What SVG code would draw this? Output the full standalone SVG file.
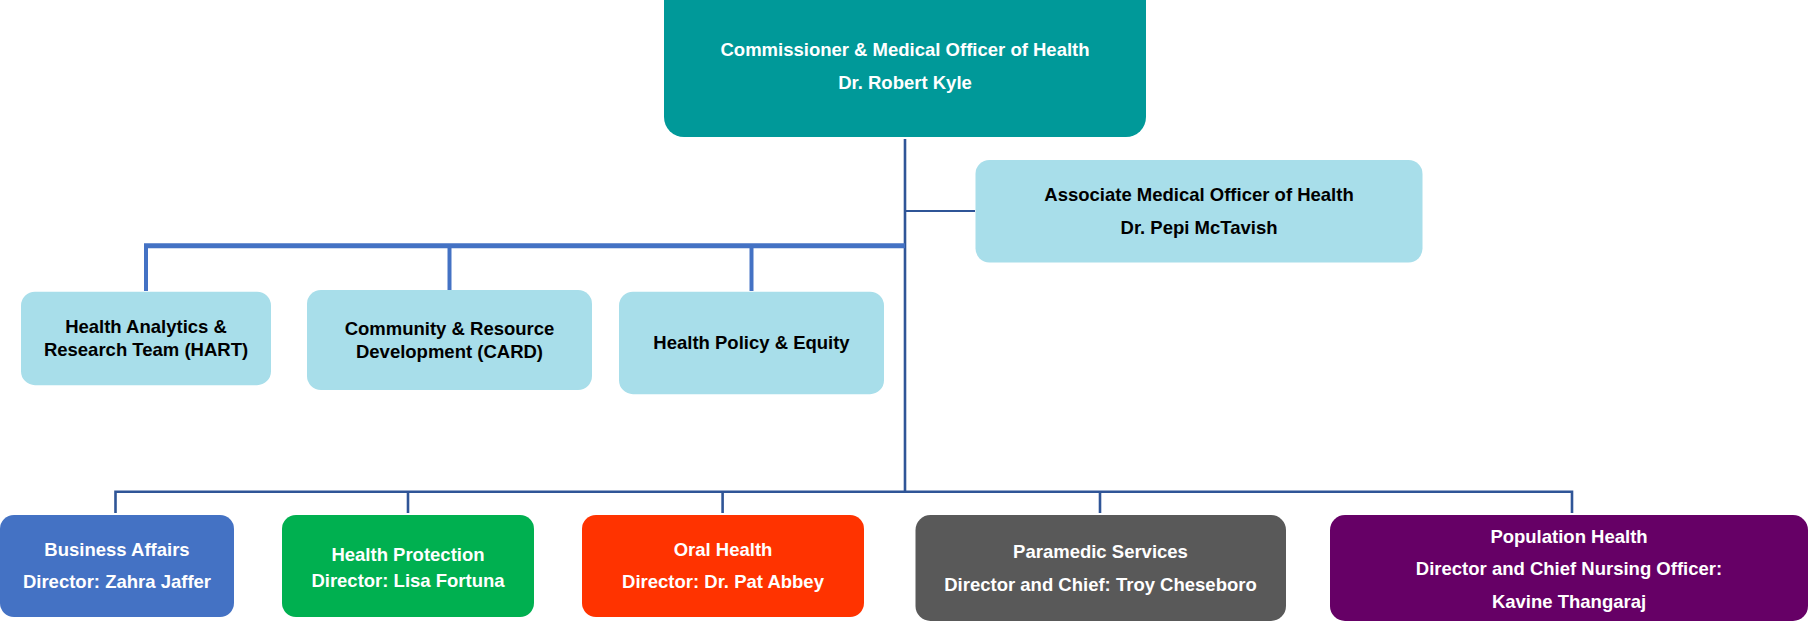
<svg xmlns="http://www.w3.org/2000/svg" width="1810" height="621" viewBox="0 0 1810 621">
<style>
text{font-family:"Liberation Sans",Arial,sans-serif;font-weight:bold;font-size:18.5px;text-anchor:middle}
.w{fill:#ffffff}
.k{fill:#000000}
.lb{fill:#A8DEEA}
.main{stroke:#2F5597;stroke-width:2.6;fill:none}
.thin{stroke:#2F5597;stroke-width:2;fill:none}
.top{stroke:#4472C4;stroke-width:4;fill:none}
</style>
<rect width="1810" height="621" fill="#ffffff"/>
<g id="connectors">
<line class="main" x1="905" y1="139" x2="905" y2="493"/>
<line class="thin" x1="905" y1="211" x2="975" y2="211"/>
<line x1="144" y1="245.8" x2="905" y2="245.8" stroke="#4472C4" stroke-width="5"/>
<line class="top" x1="146" y1="244" x2="146" y2="291"/>
<line class="top" x1="449.5" y1="246" x2="449.5" y2="290"/>
<line class="top" x1="751.5" y1="246" x2="751.5" y2="291"/>
<polyline class="main" points="115.5,513 115.5,491.7 1572,491.7 1572,513"/>
<line class="main" x1="408" y1="491.7" x2="408" y2="513"/>
<line class="main" x1="722.6" y1="491.7" x2="722.6" y2="513"/>
<line class="main" x1="1100" y1="491.7" x2="1100" y2="513"/>
</g>
<g id="commissioner">
<rect x="664" y="-20" width="482" height="157" rx="20" fill="#009999"/>
<text class="w" x="905" y="56">Commissioner &amp; Medical Officer of Health</text>
<text class="w" x="905" y="89">Dr. Robert Kyle</text>
</g>
<g id="associate">
<rect class="lb" x="975.5" y="160" width="447" height="102.5" rx="14"/>
<text class="k" x="1199" y="201">Associate Medical Officer of Health</text>
<text class="k" x="1199" y="233.5">Dr. Pepi McTavish</text>
</g>
<g id="hart">
<rect class="lb" x="21" y="291.7" width="250" height="93.5" rx="14"/>
<text class="k" x="146" y="333">Health Analytics &amp;</text>
<text class="k" x="146" y="356">Research Team (HART)</text>
</g>
<g id="card">
<rect class="lb" x="307" y="290" width="285" height="100" rx="14"/>
<text class="k" x="449.5" y="335">Community &amp; Resource</text>
<text class="k" x="449.5" y="358">Development (CARD)</text>
</g>
<g id="policy">
<rect class="lb" x="619" y="291.7" width="265" height="102.5" rx="14"/>
<text class="k" x="751.5" y="349">Health Policy &amp; Equity</text>
</g>
<g id="business">
<rect x="0" y="515" width="234" height="102" rx="14" fill="#4472C4"/>
<text class="w" x="117" y="556">Business Affairs</text>
<text class="w" x="117" y="588">Director: Zahra Jaffer</text>
</g>
<g id="protection">
<rect x="282" y="515" width="252" height="102" rx="14" fill="#00B050"/>
<text class="w" x="408" y="561">Health Protection</text>
<text class="w" x="408" y="587">Director: Lisa Fortuna</text>
</g>
<g id="oral">
<rect x="582" y="515" width="282" height="102" rx="14" fill="#FF3300"/>
<text class="w" x="723" y="556">Oral Health</text>
<text class="w" x="723" y="588">Director: Dr. Pat Abbey</text>
</g>
<g id="paramedic">
<rect x="915.5" y="515" width="370.5" height="106" rx="15" fill="#595959"/>
<text class="w" x="1100.5" y="558">Paramedic Services</text>
<text class="w" x="1100.5" y="591">Director and Chief: Troy Cheseboro</text>
</g>
<g id="population">
<rect x="1330" y="515" width="478" height="106" rx="15" fill="#660066"/>
<text class="w" x="1569" y="543">Population Health</text>
<text class="w" x="1569" y="575">Director and Chief Nursing Officer:</text>
<text class="w" x="1569" y="607.5">Kavine Thangaraj</text>
</g>
</svg>
